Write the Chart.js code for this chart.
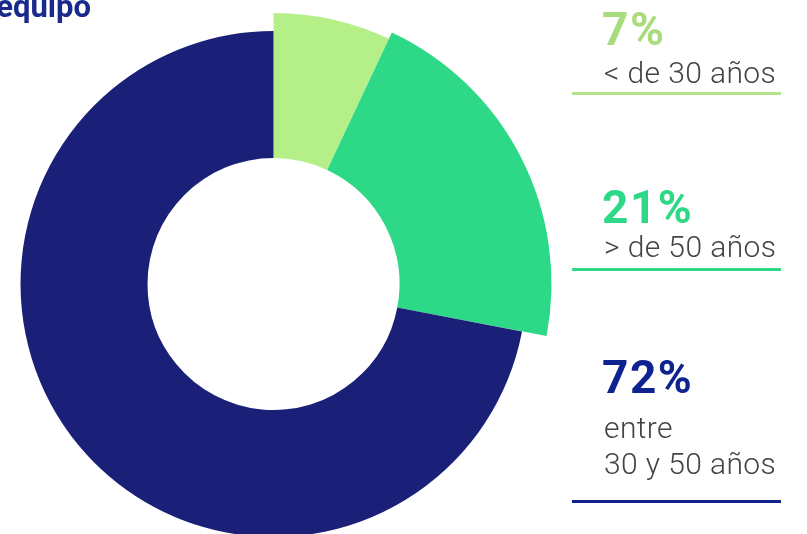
<!DOCTYPE html>
<html>
<head>
<meta charset="utf-8">
<script src="https://cdn.jsdelivr.net/npm/chart.js@4"></script>
<style>
    html, body { margin: 0; padding: 0; background: #fff; overflow: hidden; }
    body { width: 807px; height: 534px; position: relative; font-family: Roboto, sans-serif; }
    #wrap { position: absolute; left: 0; top: 0; width: 807px; height: 600px; }
    .title { position: absolute; right: 716px; top: -9px; font-size: 31px; font-weight: 700; color: #1a2a8c; white-space: nowrap; line-height: 1; }
    .pct { position: absolute; left: 602px; font-size: 46px; font-weight: 700; line-height: 1; letter-spacing: 1.5px; }
    .lbl { position: absolute; left: 604px; font-size: 30px; font-weight: 300; color: #444; line-height: 36px; letter-spacing: 0.4px; white-space: nowrap; }
    .rule { position: absolute; left: 572px; width: 209px; height: 3px; }
</style>
</head>
<body>
<div id="wrap"><canvas id="myChart" width="807" height="600"></canvas></div>
<div class="title">Edad del equipo</div>

<div class="pct" id="pct0" style="top:6px"></div>
<div class="lbl" id="lbl0" style="top:55px"></div>
<div class="rule" id="rule0" style="top:92px"></div>

<div class="pct" id="pct1" style="top:184px"></div>
<div class="lbl" id="lbl1" style="top:229px"></div>
<div class="rule" id="rule1" style="top:268px"></div>

<div class="pct" id="pct2" style="top:354px"></div>
<div class="lbl" id="lbl2" style="top:410px"></div>
<div class="rule" id="rule2" style="top:500px"></div>

<script>
// Data
const labels = ['< de 30 años', '> de 50 años', 'entre<br>30 y 50 años'];
const values = [7, 21, 72];

// Styles
const sliceColors = ['#b4ef87', '#2dd987', '#1a1f77'];
const textColors = ['#a9dc7c', '#2dd987', '#0f2390'];
const ruleColors = ['#b4e38a', '#2dd987', '#10238c'];
const radiusBoost = [18, 25, 0]; // extra outer radius per slice (px)

// Side labels
values.forEach((v, i) => {
    document.getElementById('pct' + i).textContent = v + '%';
    document.getElementById('pct' + i).style.color = textColors[i];
    document.getElementById('lbl' + i).innerHTML = labels[i];
    document.getElementById('rule' + i).style.background = ruleColors[i];
});

// Grow some slices past the base radius
const growSlices = {
    id: 'growSlices',
    afterDatasetsUpdate(chart) {
        const meta = chart.getDatasetMeta(0);
        meta.data.forEach((arc, i) => {
            arc.outerRadius = arc.outerRadius + radiusBoost[i];
        });
    }
};

const ctx = document.getElementById('myChart').getContext('2d');
new Chart(ctx, {
    type: 'doughnut',
    data: {
        labels: labels,
        datasets: [{
            data: values,
            backgroundColor: sliceColors,
            borderWidth: 0,
            clip: false
        }]
    },
    options: {
        responsive: false,
        animation: false,
        events: [],
        cutout: '49.8%',
        layout: {
            padding: { left: 20.5, top: 31, right: 280.5, bottom: 63 }
        },
        plugins: {
            legend: { display: false },
            tooltip: { enabled: false }
        }
    },
    plugins: [growSlices]
});
</script>
</body>
</html>
